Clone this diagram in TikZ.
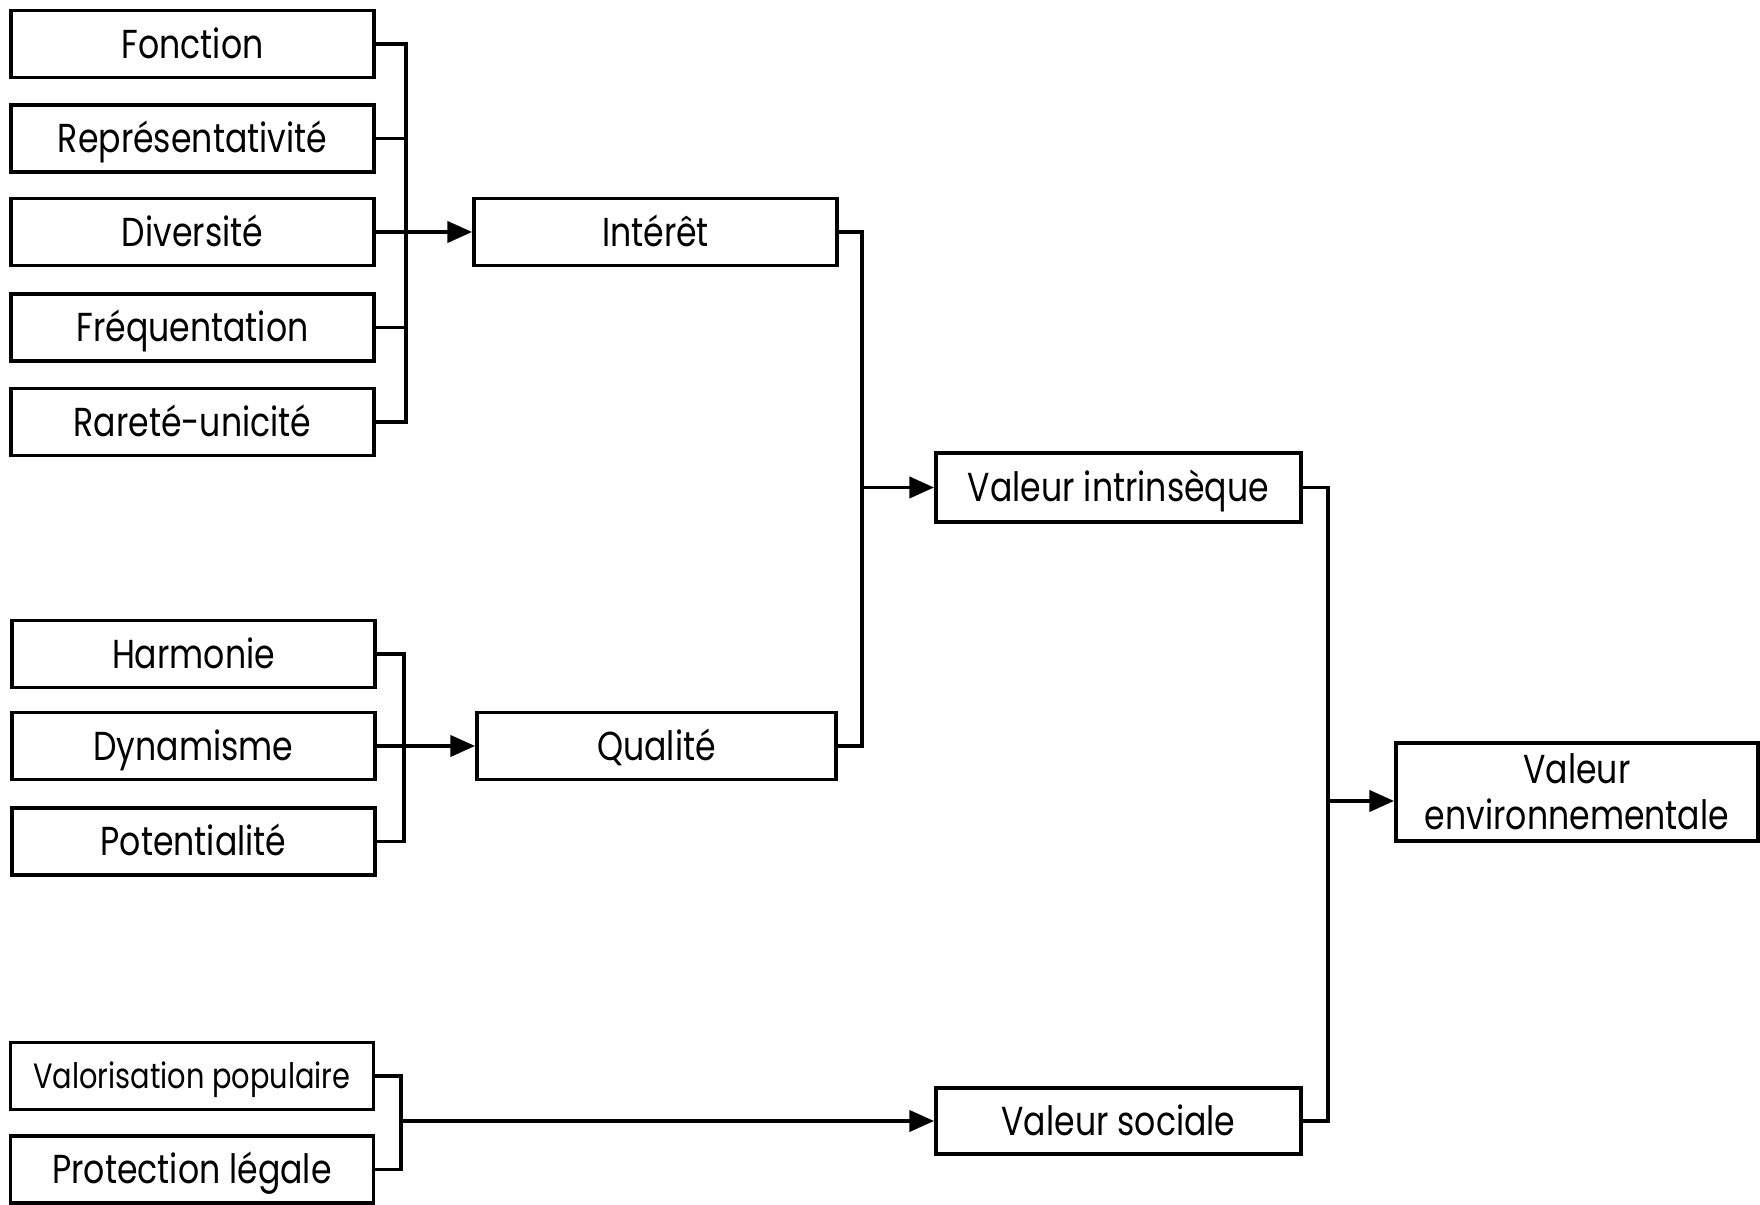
\documentclass[tikz,border=0pt]{standalone}
\usepackage{fontspec}
\setmainfont[FakeStretch=0.82]{Poppins}
\usetikzlibrary{arrows.meta,positioning}

\tikzset{
  box/.style={draw, line width=1.1pt, minimum width=3.63cm, minimum height=0.67cm,
    inner sep=0pt, align=center, text height=8.6pt, text depth=0.5pt,
    font=\fontsize{11.5}{13}\selectfont},
  link/.style={line width=1pt},
  feed/.style={link, -{Triangle[length=7pt,width=6pt]}},
}

\begin{document}
\begin{tikzpicture}[x=1cm,y=1cm]
\useasboundingbox (0,0) rectangle (17.6,-12.05);

% criteres de l'interet
\node[box] (fonction) at (1.925,-0.44) {Fonction};
\node[box] (repres) at (1.925,-1.385) {Représentativité};
\node[box] (divers) at (1.925,-2.32) {Diversité};
\node[box] (frequent) at (1.925,-3.275) {Fréquentation};
\node[box] (rarete) at (1.925,-4.22) {Rareté-unicité};

% criteres de la qualite
\node[box] (harmonie) at (1.935,-6.54) {Harmonie};
\node[box] (dynam) at (1.935,-7.46) {Dynamisme};
\node[box] (potent) at (1.935,-8.415) {Potentialité};

% criteres sociaux
\node[box, font=\fontsize{10}{12}\selectfont, text height=7.4pt] (valpop) at (1.92,-10.76) {Valorisation populaire};
\node[box] (protect) at (1.92,-11.695) {Protection légale};

% niveaux d'agregation
\node[box] (interet) at (6.555,-2.32) {Intérêt};
\node[box, minimum width=3.59cm] (qualite) at (6.565,-7.46) {Qualité};
\node[box, minimum width=3.65cm, minimum height=0.69cm] (vintr) at (11.185,-4.875) {Valeur intrinsèque};
\node[box, minimum width=3.65cm, minimum height=0.66cm] (vsoc) at (11.185,-11.21) {Valeur sociale};
\node[box, minimum width=3.62cm, minimum height=0.98cm, text height={}, text depth={}] (venv) at (15.77,-7.92) {Valeur\\environnementale};

% bus verticaux
\coordinate (b1) at (4.06,0);
\coordinate (b2) at (4.04,0);
\coordinate (b3) at (4.01,0);
\coordinate (b4) at (8.62,0);
\coordinate (b5) at (13.28,0);

\draw[link] (fonction.east) -| (b1 |- rarete.east) -- (rarete.east);
\foreach \n in {repres,frequent}
  \draw[link] (\n.east) -- (b1 |- \n.east);
\draw[feed] (divers.east) -- (interet.west);

\draw[link] (harmonie.east) -| (b2 |- potent.east) -- (potent.east);
\draw[feed] (dynam.east) -- (qualite.west);

\draw[link] (valpop.east) -| (b3 |- protect.east) -- (protect.east);
\draw[feed] (b3 |- vsoc.west) -- (vsoc.west);

\draw[link] (interet.east) -| (b4 |- qualite.east) -- (qualite.east);
\draw[feed] (b4 |- vintr.west) -- (vintr.west);

\draw[link] (vintr.east) -| (b5 |- vsoc.east) -- (vsoc.east);
\draw[feed] (b5 |- venv.west) ++(0,-0.09) coordinate (venvin) -- (venvin -| venv.west);
\end{tikzpicture}
\end{document}
